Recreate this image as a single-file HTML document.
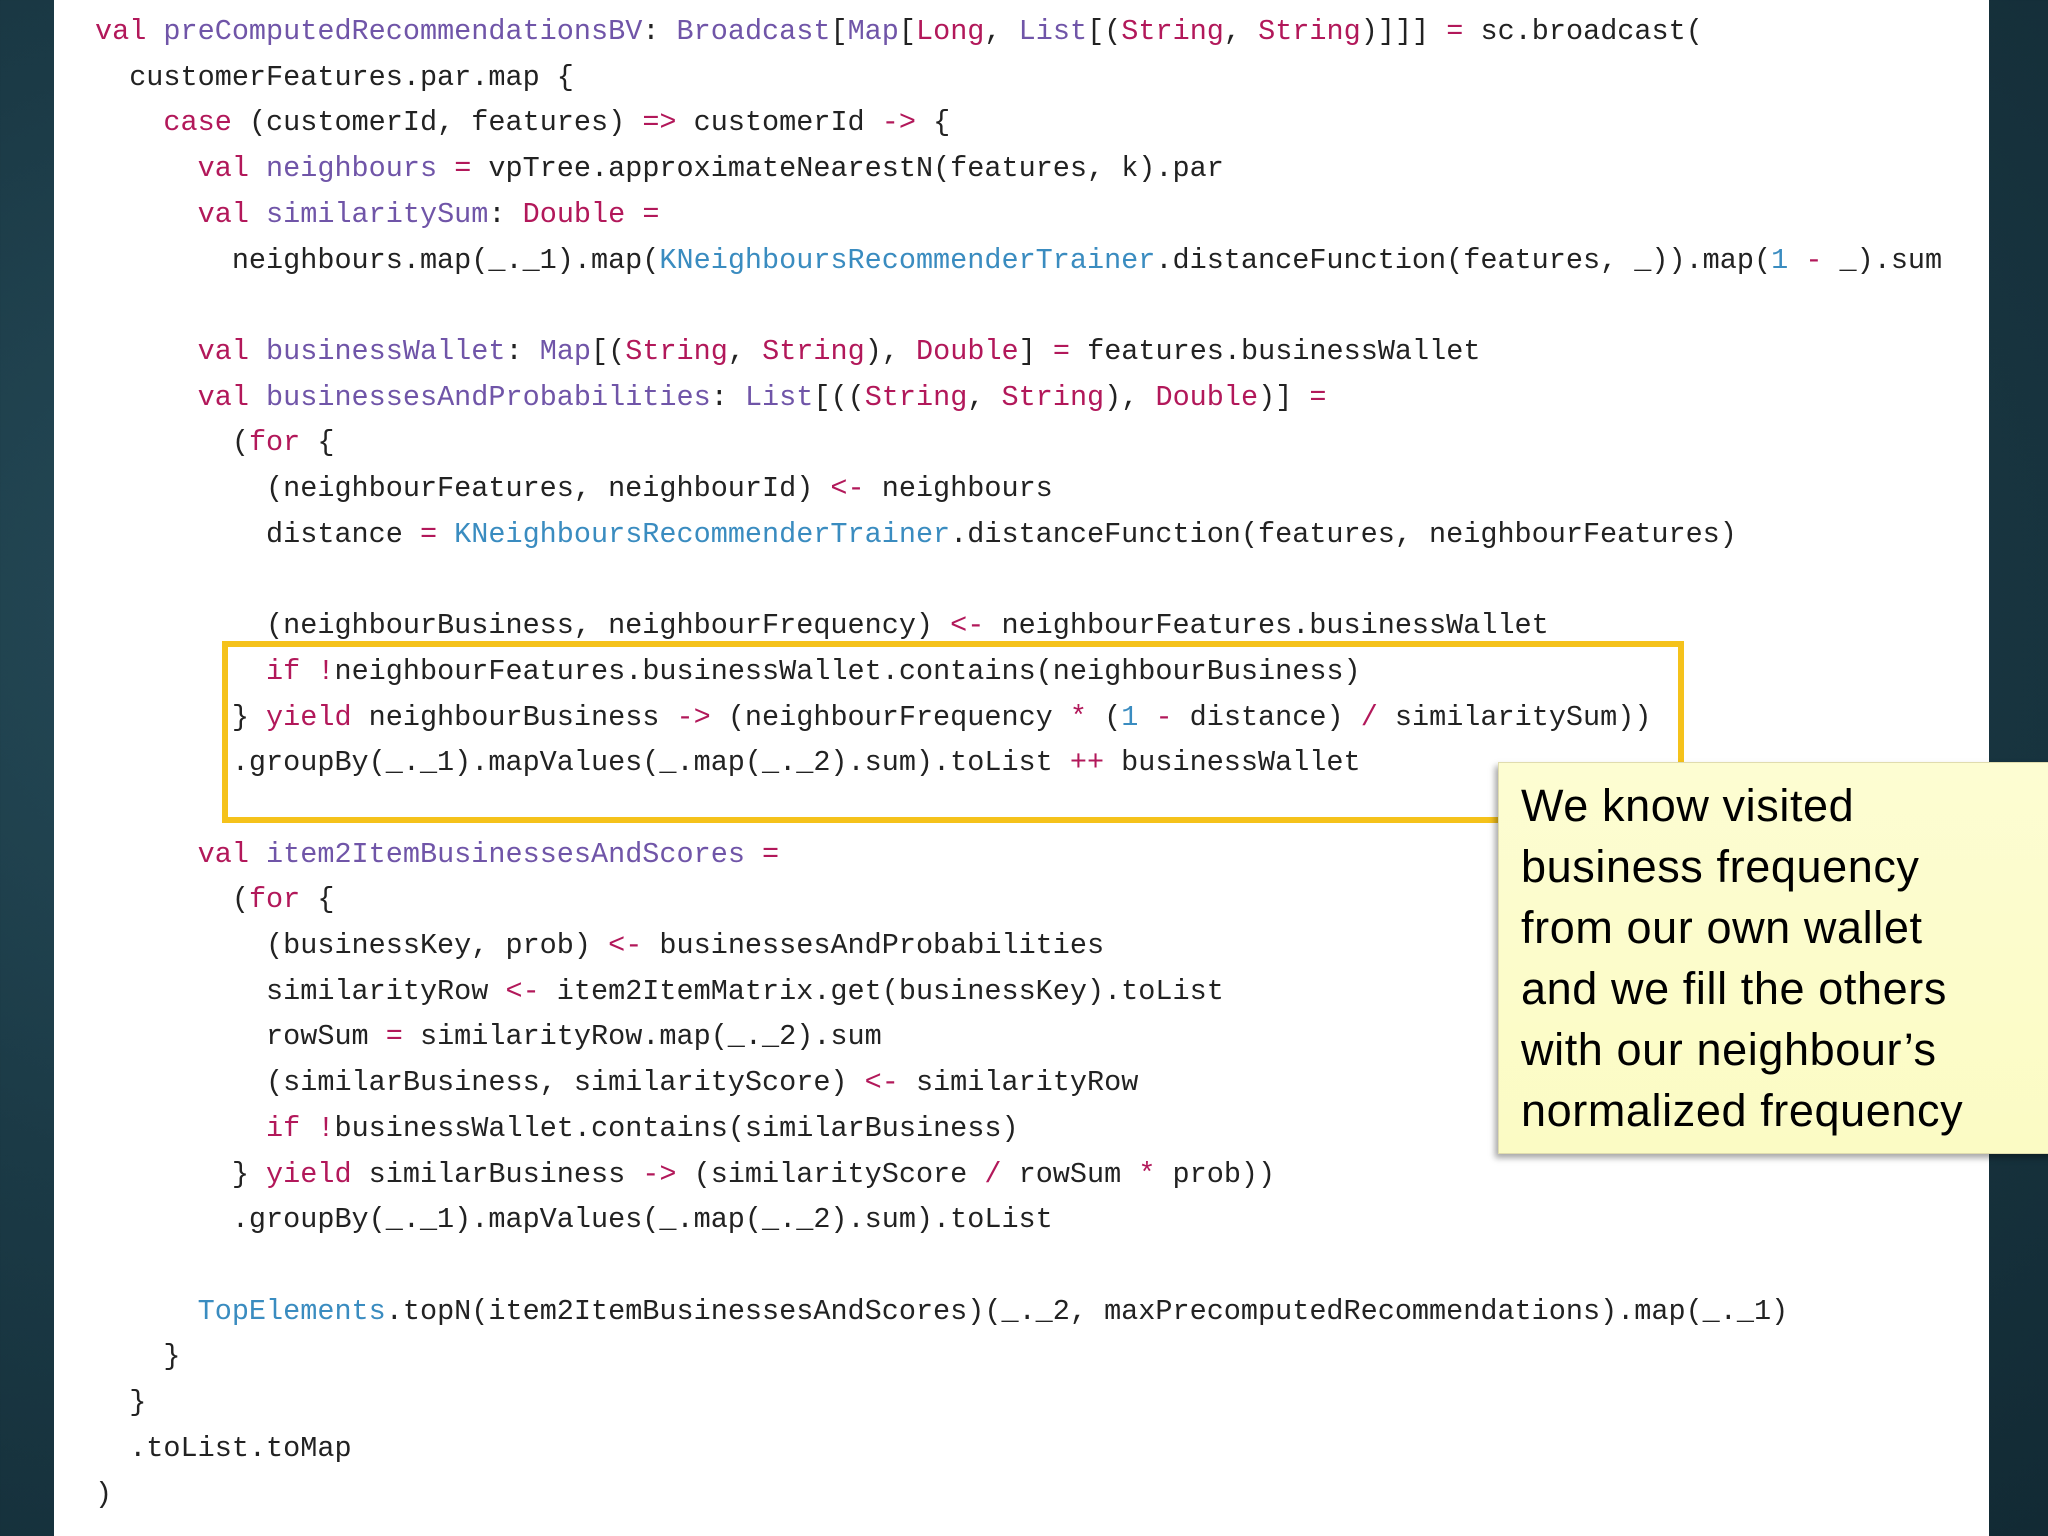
<!DOCTYPE html>
<html><head><meta charset="utf-8"><style>
html,body{margin:0;padding:0}
body{width:2048px;height:1536px;overflow:hidden;position:relative;
background:radial-gradient(ellipse at 30% 40%,#2a5260 0%,#1b3a46 50%,#122a34 100%);}
#panel{position:absolute;left:54px;top:0;width:1935px;height:1536px;background:#fff;}
pre{position:absolute;left:95px;top:9px;margin:0;font-family:"Liberation Mono",monospace;font-size:28.5px;line-height:45.7px;color:#222;}
.k{color:#b2185a}.v{color:#7055a8}.b{color:#3a8cc0}
#box{position:absolute;left:222px;top:641px;width:1450px;height:170px;border:6px solid #f5c21b;box-sizing:content-box;}
#note{position:absolute;left:1498px;top:762px;width:560px;height:392px;background:linear-gradient(#fdfdd2,#fbfbc4);
box-shadow:-3px 4px 6px rgba(0,0,0,0.35);border:1px solid #e0dcae;box-sizing:border-box;}
#note div{position:absolute;left:22px;top:12px;font-family:"Liberation Sans",sans-serif;font-size:45px;line-height:61px;color:#000;letter-spacing:0.6px;white-space:nowrap}
</style></head><body>
<div id="panel"></div>
<div id="box"></div>
<pre><span class="k">val</span> <span class="v">preComputedRecommendationsBV</span>: <span class="v">Broadcast</span>[<span class="v">Map</span>[<span class="k">Long</span>, <span class="v">List</span>[(<span class="k">String</span>, <span class="k">String</span>)]]] <span class="k">=</span> sc.broadcast(
  customerFeatures.par.map {
    <span class="k">case</span> (customerId, features) <span class="k">=&gt;</span> customerId <span class="k">-&gt;</span> {
      <span class="k">val</span> <span class="v">neighbours</span> <span class="k">=</span> vpTree.approximateNearestN(features, k).par
      <span class="k">val</span> <span class="v">similaritySum</span>: <span class="k">Double</span> <span class="k">=</span>
        neighbours.map(_._1).map(<span class="b">KNeighboursRecommenderTrainer</span>.distanceFunction(features, _)).map(<span class="b">1</span> <span class="k">-</span> _).sum

      <span class="k">val</span> <span class="v">businessWallet</span>: <span class="v">Map</span>[(<span class="k">String</span>, <span class="k">String</span>), <span class="k">Double</span>] <span class="k">=</span> features.businessWallet
      <span class="k">val</span> <span class="v">businessesAndProbabilities</span>: <span class="v">List</span>[((<span class="k">String</span>, <span class="k">String</span>), <span class="k">Double</span>)] <span class="k">=</span>
        (<span class="k">for</span> {
          (neighbourFeatures, neighbourId) <span class="k">&lt;-</span> neighbours
          distance <span class="k">=</span> <span class="b">KNeighboursRecommenderTrainer</span>.distanceFunction(features, neighbourFeatures)

          (neighbourBusiness, neighbourFrequency) <span class="k">&lt;-</span> neighbourFeatures.businessWallet
          <span class="k">if</span> <span class="k">!</span>neighbourFeatures.businessWallet.contains(neighbourBusiness)
        } <span class="k">yield</span> neighbourBusiness <span class="k">-&gt;</span> (neighbourFrequency <span class="k">*</span> (<span class="b">1</span> <span class="k">-</span> distance) <span class="k">/</span> similaritySum))
        .groupBy(_._1).mapValues(_.map(_._2).sum).toList <span class="k">++</span> businessWallet

      <span class="k">val</span> <span class="v">item2ItemBusinessesAndScores</span> <span class="k">=</span>
        (<span class="k">for</span> {
          (businessKey, prob) <span class="k">&lt;-</span> businessesAndProbabilities
          similarityRow <span class="k">&lt;-</span> item2ItemMatrix.get(businessKey).toList
          rowSum <span class="k">=</span> similarityRow.map(_._2).sum
          (similarBusiness, similarityScore) <span class="k">&lt;-</span> similarityRow
          <span class="k">if</span> <span class="k">!</span>businessWallet.contains(similarBusiness)
        } <span class="k">yield</span> similarBusiness <span class="k">-&gt;</span> (similarityScore <span class="k">/</span> rowSum <span class="k">*</span> prob))
        .groupBy(_._1).mapValues(_.map(_._2).sum).toList

      <span class="b">TopElements</span>.topN(item2ItemBusinessesAndScores)(_._2, maxPrecomputedRecommendations).map(_._1)
    }
  }
  .toList.toMap
)</pre>
<div id="note"><div>We know visited<br>business frequency<br>from our own wallet<br>and we fill the others<br>with our neighbour’s<br>normalized frequency</div></div>
</body></html>
